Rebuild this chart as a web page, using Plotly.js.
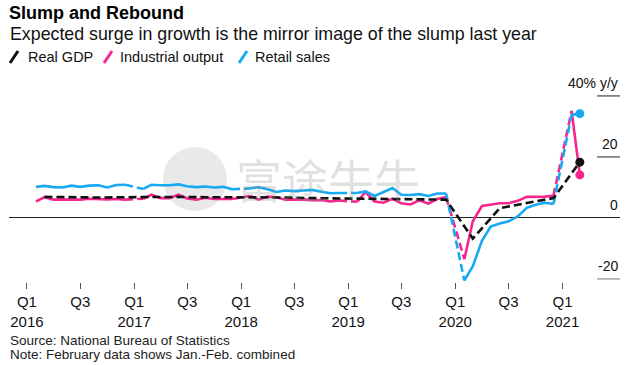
<!DOCTYPE html>
<html>
<head>
<meta charset="utf-8">
<script src="https://cdn.plot.ly/plotly-3.0.1.min.js"></script>
<style>html,body{margin:0;padding:0;background:#fff;}#chart{width:637px;height:365px;}</style>
</head>
<body>
<div id="chart"></div>
<script>
// ---- Data (y/y %, Jan-Feb combined so January is null) ----
const months = [];
for (let y = 2016; y <= 2021; y++) {
  for (let m = 1; m <= 12; m++) {
    if (y === 2021 && m > 3) break;
    months.push(y + '-' + String(m).padStart(2, '0') + '-01');
  }
}
const industrialOutput = [
  null,5.4,6.8,6.0,6.0,6.2,6.0,6.3,6.1,6.1,6.2,6.0,
  null,6.3,7.6,6.5,6.5,7.6,6.4,6.0,6.6,6.2,6.1,6.2,
  null,7.2,6.0,7.0,6.8,6.0,6.0,6.1,5.8,5.9,5.4,5.7,
  null,5.3,8.5,5.4,5.0,6.3,4.8,4.4,5.8,4.7,6.2,6.9,
  null,-13.5,-1.1,3.9,4.4,4.8,4.8,5.6,6.9,6.9,7.0,7.3,
  null,35.1,14.1
];
const retailSales = [
  null,10.2,10.5,10.1,10.0,10.6,10.2,10.6,10.7,10.0,10.8,10.9,
  null,9.5,10.9,10.7,10.7,11.0,10.4,10.1,10.3,10.0,10.2,9.4,
  null,9.7,10.1,9.4,8.5,9.0,8.8,9.0,9.2,8.6,8.1,8.2,
  null,8.2,8.7,7.2,8.6,9.8,7.6,7.5,7.8,7.2,8.0,8.0,
  null,-20.5,-15.8,-7.5,-2.8,-1.8,-1.1,0.5,3.3,4.3,5.0,4.6,
  null,33.8,34.2
];
const gdpQuarters = [
  '2016-03-01','2016-06-01','2016-09-01','2016-12-01',
  '2017-03-01','2017-06-01','2017-09-01','2017-12-01',
  '2018-03-01','2018-06-01','2018-09-01','2018-12-01',
  '2019-03-01','2019-06-01','2019-09-01','2019-12-01',
  '2020-03-01','2020-06-01','2020-09-01','2020-12-01',
  '2021-03-01'
];
const realGDP = [
  6.9,6.7,6.7,6.8,
  6.9,6.9,6.8,6.8,
  6.8,6.7,6.5,6.4,
  6.4,6.2,6.0,6.0,
  -6.8,3.2,4.9,6.5,
  18.3
];
// Years whose Dec->Feb gap (no January figure) is bridged with a dashed line
const bridgedYears = [2017, 2018, 2019, 2020, 2021];
const tickVals = ['2016-01-01','2016-07-01','2017-01-01','2017-07-01','2018-01-01','2018-07-01',
                  '2019-01-01','2019-07-01','2020-01-01','2020-07-01','2021-01-01'];
const tickText = ['Q1<br>2016','Q3','Q1<br>2017','Q3','Q1<br>2018','Q3',
                  'Q1<br>2019','Q3','Q1<br>2020','Q3','Q1<br>2021'];
const yLabelVals = [40, 20, 0, -20];
const yLabelText = ['40% y/y', '20', '0', '-20'];

// ---- Styles ----
const PINK = '#f7268f', BLUE = '#17a9f2', BLACK = '#111111';
const FONT = 'Liberation Sans, Arial, Helvetica, sans-serif';
const W = 637, H = 365, L = 9, R = 17, T = 72, B = 83;
const plotW = W - L - R, plotH = H - T - B;
const pX = x => (x - L) / plotW;
const pY = y => (H - B - y) / plotH;
const DASH = '8px,4px';

function bridge(values) {
  const xs = [], ys = [];
  bridgedYears.forEach(yr => {
    const iDec = months.indexOf((yr - 1) + '-12-01');
    const iFeb = months.indexOf(yr + '-02-01');
    xs.push(months[iDec], months[iFeb], null);
    ys.push(values[iDec], values[iFeb], null);
  });
  return {x: xs, y: ys};
}
function solidTrace(values, color) {
  return {x: months, y: values, type: 'scatter', mode: 'lines', connectgaps: false,
          line: {color: color, width: 2.6}, hoverinfo: 'skip', showlegend: false};
}
function dashTrace(values, color) {
  const b = bridge(values);
  return {x: b.x, y: b.y, type: 'scatter', mode: 'lines', connectgaps: false,
          line: {color: color, width: 2.6, dash: DASH}, hoverinfo: 'skip', showlegend: false};
}
function endDot(xs, values, color) {
  const n = values.length - 1;
  return {x: [xs[n]], y: [values[n]], type: 'scatter', mode: 'markers',
          marker: {color: color, size: 9}, hoverinfo: 'skip', showlegend: false};
}

const traces = [
  solidTrace(industrialOutput, PINK),
  dashTrace(industrialOutput, PINK),
  endDot(months, industrialOutput, PINK),
  solidTrace(retailSales, BLUE),
  dashTrace(retailSales, BLUE),
  endDot(months, retailSales, BLUE),
  {x: gdpQuarters, y: realGDP, type: 'scatter', mode: 'lines',
   line: {color: BLACK, width: 2.6, dash: DASH}, hoverinfo: 'skip', showlegend: false},
  endDot(gdpQuarters, realGDP, BLACK)
];

const shapes = [];
const annotations = [];
// short gridlines at right
yLabelVals.forEach((v, i) => {
  if (v !== 0) {
    shapes.push({type: 'line', xref: 'paper', yref: 'y', x0: pX(597), x1: 1, y0: v, y1: v,
                 line: {color: v === -20 ? '#777' : '#222', width: 1}});
  }
  annotations.push({xref: 'paper', yref: 'y', x: 1, y: v, xanchor: 'right', yanchor: 'bottom',
                    yshift: 3, text: yLabelText[i], showarrow: false,
                    font: {family: FONT, size: 14, color: '#111'}});
});
// watermark
shapes.push({type: 'circle', xref: 'paper', yref: 'paper', layer: 'below',
             x0: pX(163), x1: pX(227), y0: pY(211), y1: pY(147),
             fillcolor: 'rgba(228,228,228,0.8)', line: {width: 0}});
annotations.push({xref: 'paper', yref: 'paper', x: pX(234), y: pY(178), xanchor: 'left', yanchor: 'middle',
                  text: '富途牛牛', showarrow: false,
                  font: {family: 'Noto Sans CJK SC', size: 46, color: 'rgba(150,150,150,0.28)'}});
// subtitle
annotations.push({xref: 'paper', yref: 'paper', x: pX(8), y: pY(34), xanchor: 'left', yanchor: 'middle',
                  text: 'Expected surge in growth is the mirror image of the slump last year', showarrow: false,
                  font: {family: FONT, size: 17.8, color: '#111'}});
// legend
const legendItems = [
  {label: 'Real GDP', color: BLACK, sx: 10, tx: 26},
  {label: 'Industrial output', color: PINK, sx: 104, tx: 118},
  {label: 'Retail sales', color: BLUE, sx: 239, tx: 253}
];
legendItems.forEach(it => {
  shapes.push({type: 'line', xref: 'paper', yref: 'paper',
               x0: pX(it.sx), y0: pY(63), x1: pX(it.sx + 8), y1: pY(51),
               line: {color: it.color, width: 3}});
  annotations.push({xref: 'paper', yref: 'paper', x: pX(it.tx), y: pY(57), xanchor: 'left', yanchor: 'middle',
                    text: it.label, showarrow: false, font: {family: FONT, size: 14.5, color: '#111'}});
});
// source
annotations.push({xref: 'paper', yref: 'paper', x: pX(8), y: pY(340), xanchor: 'left', yanchor: 'middle',
                  text: 'Source: National Bureau of Statistics', showarrow: false,
                  font: {family: FONT, size: 13.5, color: '#222'}});
annotations.push({xref: 'paper', yref: 'paper', x: pX(8), y: pY(354), xanchor: 'left', yanchor: 'middle',
                  text: 'Note: February data shows Jan.-Feb. combined', showarrow: false,
                  font: {family: FONT, size: 13.5, color: '#222'}});

const layout = {
  width: W, height: H,
  margin: {l: L, r: R, t: T, b: B},
  paper_bgcolor: '#fff', plot_bgcolor: '#fff',
  title: {text: '<b>Slump and Rebound</b>', x: 9 / W, xanchor: 'left', xref: 'container',
          y: 1 - 13 / H, yanchor: 'middle', yref: 'container',
          font: {family: FONT, size: 18, color: '#000'}},
  xaxis: {type: 'date', range: ['2015-11-01', '2021-07-16'], showgrid: false, zeroline: false,
          showline: false, tickmode: 'array', tickvals: tickVals, ticktext: tickText,
          ticks: 'outside', ticklen: 6, tickwidth: 1, tickcolor: '#555',
          tickfont: {family: FONT, size: 15, color: '#111'}, fixedrange: true},
  yaxis: {range: [-21, 47.85], showgrid: false, zeroline: true, zerolinecolor: '#222',
          zerolinewidth: 1, showticklabels: false, ticks: '', showline: false, fixedrange: true},
  shapes: shapes,
  annotations: annotations,
  showlegend: false
};

Plotly.newPlot('chart', traces, layout, {displayModeBar: false, staticPlot: true});
</script>
</body>
</html>
